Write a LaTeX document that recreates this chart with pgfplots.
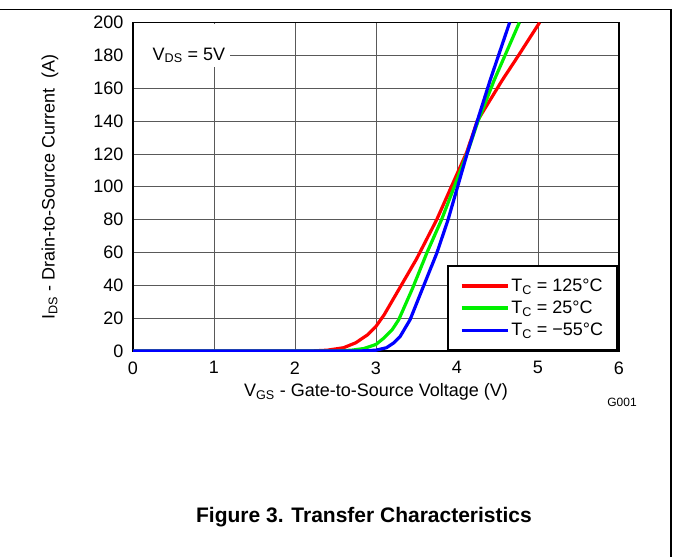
\documentclass[border=0pt]{standalone}
\usepackage{pgfplots}
\pgfplotsset{compat=1.18}
\usepackage{fontspec}
\setmainfont{Liberation Sans}

\pgfplotstableread{
x y
0.00 0
2.20 0
2.40 0.5
2.60 2
2.75 5
2.90 10
3.00 15
3.10 22
3.30 39
3.50 56
3.75 80
3.93 100
4.12 121
4.25 140
4.56 165
4.76 180
5.02 200
}\hotdata

\pgfplotstableread{
x y
0.00 0
2.50 0
2.70 0.5
2.85 1.5
3.00 4
3.10 8
3.20 13
3.28 19
3.45 38
3.63 60
3.81 80
4.13 121
4.26 140
4.46 165
4.77 200
}\roomdata

\pgfplotstableread{
x y
0.00 0
2.80 0
3.00 0.5
3.13 2
3.22 5
3.30 9
3.42 19
3.55 35
3.75 59.5
3.89 80
4.13 121
4.25 140
4.41 165
4.65 200
}\colddata

\begin{document}
\begin{tikzpicture}
\path[use as bounding box] (0pt,0pt) rectangle (673pt,-557pt);
\draw[line width=1.3pt] (0pt,-9.5pt) -- (671pt,-9.5pt) -- (671pt,-557pt);
\begin{axis}[
  at={(133pt,-22.5pt)}, anchor=north west,
  scale only axis, width=486pt, height=328.5pt,
  xmin=0, xmax=6, ymin=0, ymax=200,
  xtick={0,1,...,6}, ytick={0,20,...,200},
  grid=major,
  major grid style={line width=0.8pt, color=black!65},
  axis line style={line width=1.8pt},
  tick style={draw=none},
  /pgf/number format/assume math mode=true,
  ticklabel style={font=\fontsize{18}{18}\selectfont},
  yticklabel style={xshift=-6pt},
  xticklabel style={yshift=-7pt},
  xlabel={V\textsubscript{GS} - Gate-to-Source Voltage (V)},
  ylabel={I\textsubscript{DS} - Drain-to-Source Current\ \ (A)},
  label style={font=\fontsize{18}{20}\selectfont},
  xlabel style={at={(axis description cs:0.5,-0.125)}, anchor=center},
  ylabel style={at={(axis description cs:-0.171,0.5)}, anchor=center},
  legend style={at={(rel axis cs:1,0)}, anchor=south east, xshift=-1pt,
    draw=black, line width=1.6pt, fill=white,
    font=\fontsize{18}{18}\selectfont,
    row sep=4pt, inner xsep=12pt, inner ysep=11pt,
    cells={anchor=west}},
  legend image code/.code={\draw[#1, line width=3.2pt] (0pt,0pt) -- (34pt,0pt);
    \path (0pt,0pt) -- (46pt,0pt);},
]
\fill[white] ([xshift=1pt,yshift=-1pt]rel axis cs:0,1) rectangle (axis cs:1.2,173);
\node[anchor=west, font=\fontsize{18}{18}\selectfont] at (axis cs:0.2,180) {V\textsubscript{DS} = 5V};
\addplot[color={rgb,255:red,255;green,0;blue,0}, line width=3.2pt] table[x=x,y=y] {\hotdata};
\addlegendentry{T\textsubscript{C} = 125°C}
\addplot[color={rgb,255:red,0;green,240;blue,0}, line width=3.2pt] table[x=x,y=y] {\roomdata};
\addlegendentry{T\textsubscript{C} = 25°C}
\addplot[color={rgb,255:red,0;green,0;blue,255}, line width=3.2pt] table[x=x,y=y] {\colddata};
\addlegendentry{T\textsubscript{C} = −55°C}
\end{axis}
\node[font=\fontsize{12}{12}\selectfont] at (622pt,-402pt) {G001};
\node[font=\bfseries\fontsize{21}{22}\selectfont] at (364pt,-517pt) {Figure 3. Transfer Characteristics};
\end{tikzpicture}
\end{document}
